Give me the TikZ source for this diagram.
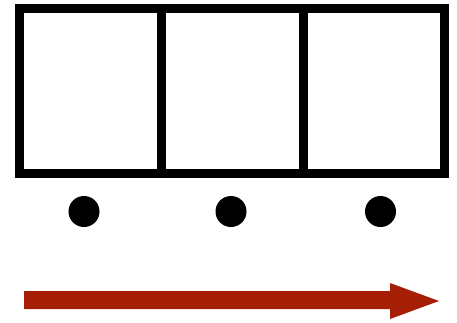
\documentclass[tikz,border=0pt]{standalone}
\definecolor{arrowred}{RGB}{166,30,6}
\tikzset{
  frame/.style={line width=9pt, line join=miter, black},
  dot/.style={circle, fill=black, inner sep=0pt, minimum size=31pt},
  bigarrow/.style={fill=arrowred, draw=none}
}
\begin{document}
\begin{tikzpicture}[x=1pt,y=-1pt]
\useasboundingbox (0,0) rectangle (457,322);
\coordinate (tl) at (19.5,8.5);
\coordinate (br) at (444.5,173);
\draw[frame] (tl) rectangle (br);
\draw[frame] (161,8.5) -- (161,173);
\draw[frame] (303,8.5) -- (303,173);
\node[dot] (d1) at (84,211.5) {};
\node[dot] (d2) at (231,211.5) {};
\node[dot] (d3) at (380.5,211.5) {};
\fill[bigarrow] (24,291) -- (390,291) -- (390,283) -- (439,301) -- (390,319) -- (390,309) -- (24,309) -- cycle;
\end{tikzpicture}
\end{document}
